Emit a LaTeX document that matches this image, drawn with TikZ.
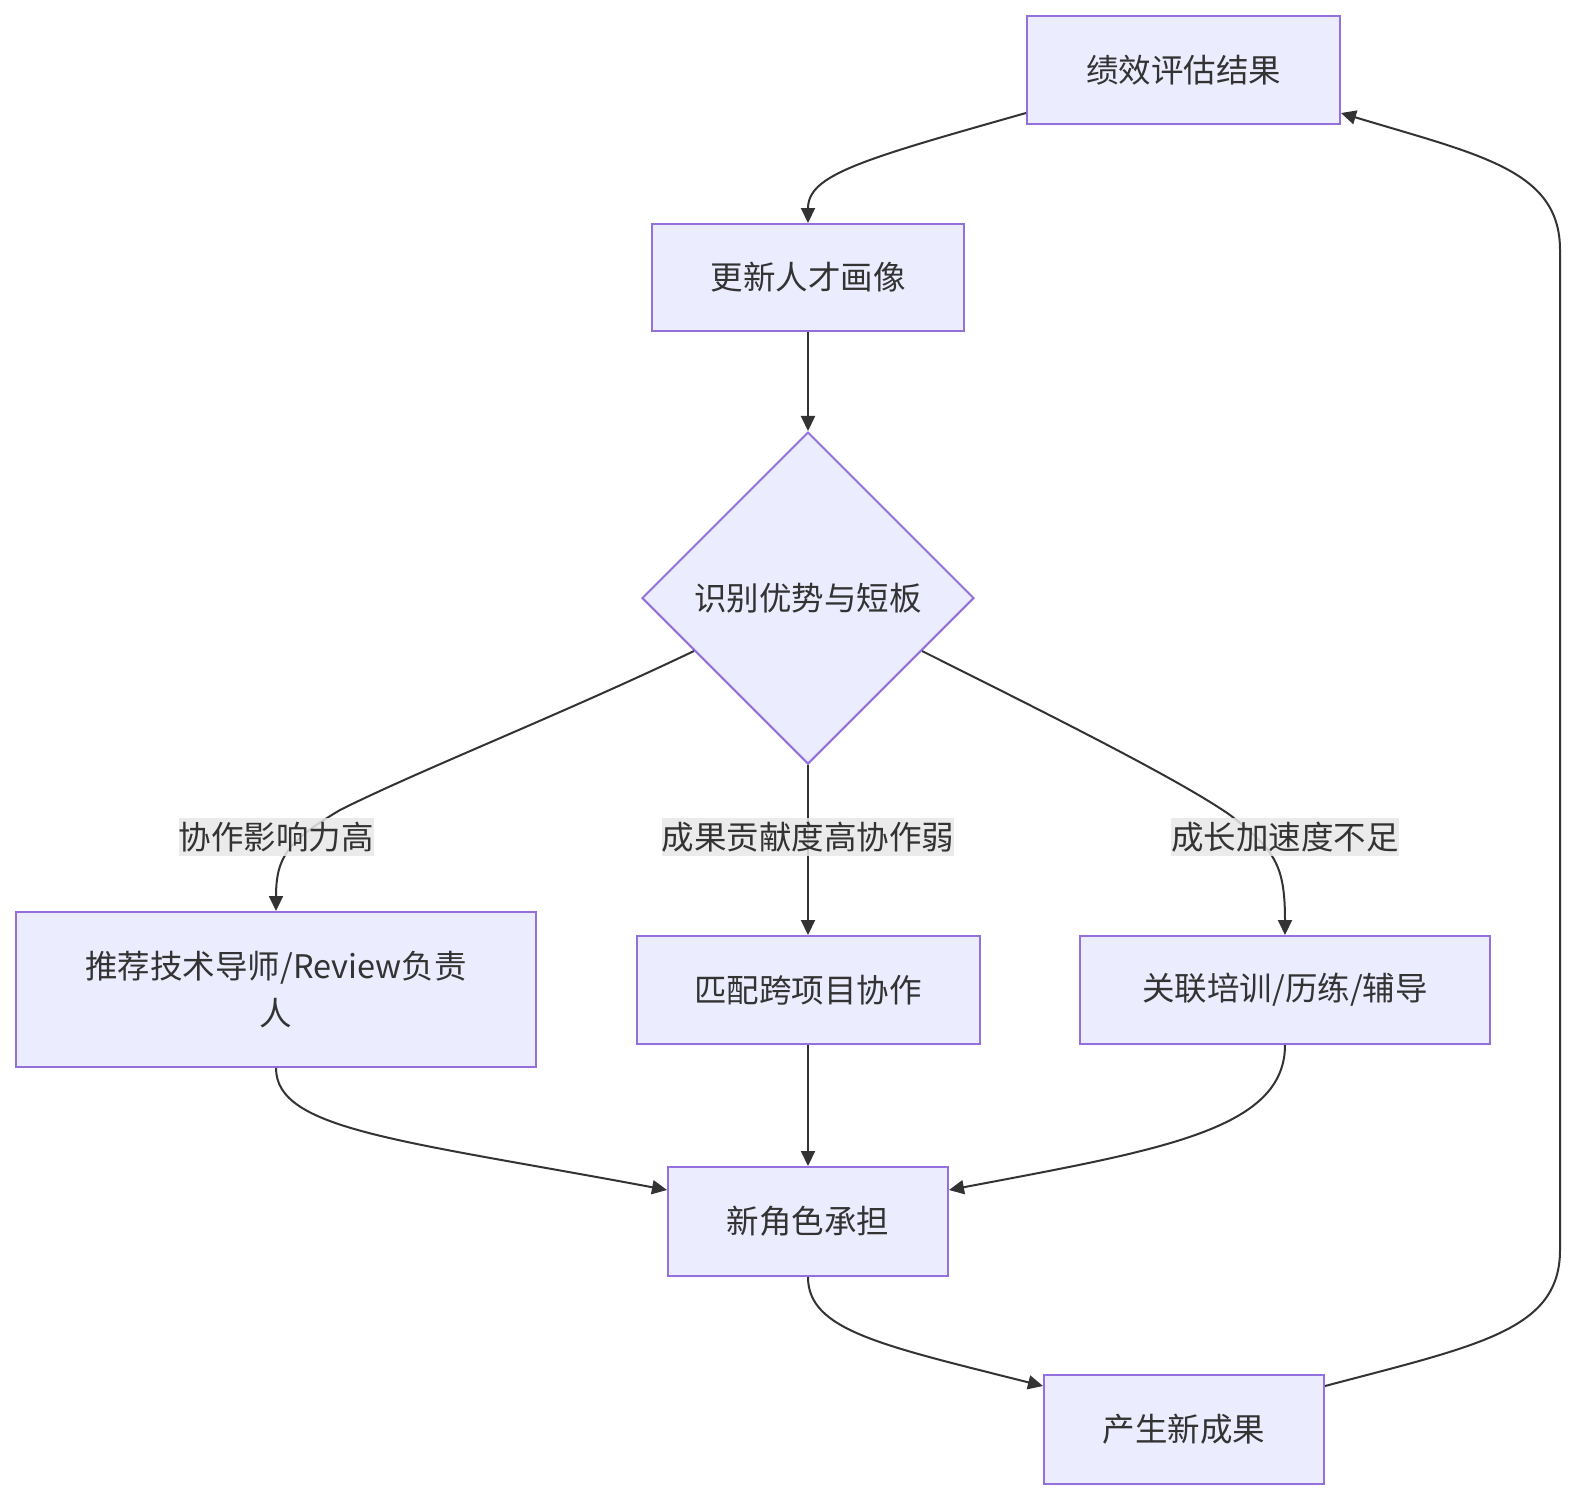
\documentclass[tikz,border=0pt]{standalone}
\usepackage{fontspec}
\setmainfont{Noto Sans CJK SC}
\usetikzlibrary{arrows.meta,shapes.geometric}
\definecolor{boxfill}{HTML}{ECECFF}
\definecolor{boxline}{HTML}{9370DB}
\definecolor{edgecol}{HTML}{333333}
\definecolor{lblbg}{HTML}{E8E8E8}
\tikzset{
  box/.style={draw=boxline, fill=boxfill, line width=2pt, text=edgecol,
    font=\fontsize{32.5}{47}\selectfont, align=center, inner sep=0pt},
  decision/.style={diamond, draw=boxline, fill=boxfill, line width=2pt, text=edgecol,
    font=\fontsize{32.5}{47}\selectfont, inner sep=0pt, aspect=1},
  edge/.style={draw=edgecol, line width=2pt, -{Triangle[length=15pt,width=14pt]}},
  lbl/.style={fill=lblbg, fill opacity=0.85, text opacity=1, text=edgecol,
    font=\fontsize{32.5}{40}\selectfont, inner xsep=0pt, inner ysep=4pt}
}
\begin{document}
\begin{tikzpicture}[x=1pt,y=-1pt]
\useasboundingbox (0,0) rectangle (1575,1500);
\fill[white] (0,0) rectangle (1575,1500);
% nodes
\node[box, minimum width=313pt, minimum height=108pt] (a) at (1183.5,70) {绩效评估结果};
\node[box, minimum width=312pt, minimum height=107pt] (b) at (808,277.5) {更新人才画像};
\node[decision, minimum width=332pt, minimum height=332pt] (c) at (808,598) {识别优势与短板};
\node[box, minimum width=520pt, minimum height=155pt] (d) at (276,989.5) {推荐技术导师/Review负责\\人};
\node[box, minimum width=343pt, minimum height=108pt] (e) at (808,990) {匹配跨项目协作};
\node[box, minimum width=410pt, minimum height=108pt] (f) at (1285,990) {关联培训/历练/辅导};
\node[box, minimum width=280pt, minimum height=109pt] (g) at (808,1221.5) {新角色承担};
\node[box, minimum width=280pt, minimum height=109pt] (h) at (1184,1429.5) {产生新成果};
% edges
\draw[edge] (a.west |- 0,113) .. controls (860,160) and (808,175) .. (b.north);
\draw[edge] (b) -- (c);
\coordinate (cl) at (694,651);
\coordinate (cr) at (922,651);
\draw[edge] (cl) .. controls (560,715) and (420,770) .. (340,810)
  .. controls (290,840) and (276,855) .. (d.north);
\draw[edge] (c) -- (e);
\draw[edge] (cr) .. controls (1050,715) and (1180,780) .. (1230,815)
  .. controls (1275,850) and (1285,865) .. (f.north);
\draw[edge] (d.south) .. controls (276,1130) and (400,1140) .. (g.west |- 0,1190);
\draw[edge] (e) -- (g);
\draw[edge] (f.south) .. controls (1285,1130) and (1160,1150) .. (g.east |- 0,1190);
\draw[edge] (g.south) .. controls (808,1330) and (880,1345) .. (h.west |- 0,1386);
\draw[edge] (h.east |- 0,1386) .. controls (1480,1345) and (1560,1330) .. (1560,1250)
  -- (1560,250) .. controls (1560,170) and (1480,155) .. (a.east |- 0,113);
% labels
\node[lbl] (l1) at (276,837) {协作影响力高};
\node[lbl] (l2) at (808,837) {成果贡献度高协作弱};
\node[lbl] (l3) at (1285,837) {成长加速度不足};
\end{tikzpicture}
\end{document}
